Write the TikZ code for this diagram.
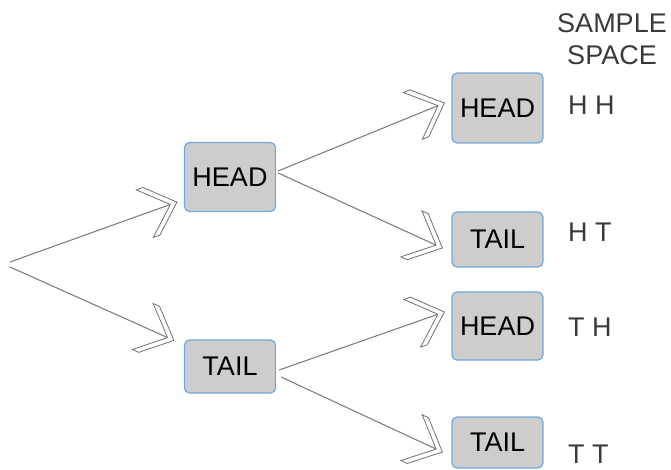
\documentclass[tikz,border=0pt]{standalone}
\usepackage{fontspec}
\setmainfont{Liberation Sans}
\usetikzlibrary{calc}
\definecolor{boxfill}{HTML}{CDCDCD}
\definecolor{boxdraw}{HTML}{6FA8DC}
\definecolor{conncol}{HTML}{808080}
\definecolor{chevcol}{HTML}{707070}
\definecolor{sstext}{HTML}{3A3A3A}
\tikzset{
  box/.style={draw=boxdraw, fill=boxfill, line width=1.2pt, rounded corners=5pt,
    minimum width=91pt, inner sep=0pt, font=\fontsize{27}{30}\selectfont, text=black},
  conn/.style={draw=conncol, line width=1.1pt},
  chev/.style={draw=chevcol, fill=white, line width=0.8pt, line join=miter},
  sslabel/.style={inner sep=0pt, font=\fontsize{27}{30}\selectfont, text=sstext},
}
\newcommand\chevarrow[2]{%
  \draw[conn] (#1) -- (#2);
  \path[chev] let \p1=(#1), \p2=(#2), \n1={atan2(\y2-\y1,\x2-\x1)} in
    (\p2) -- ++(\n1+137:37pt) -- ++(\n1+180:7pt) -- ++(\n1-43:37pt)
    -- ++(\n1+223:37pt) -- ++(\n1:7pt) -- cycle;
}
\begin{document}
\begin{tikzpicture}[x=1pt,y=-1pt]
\useasboundingbox (0,0) rectangle (671,470);
% nodes
\node[box, minimum height=69pt] (h1) at (230,177) {HEAD};
\node[box, minimum height=53pt] (t1) at (230,366.5) {TAIL};
\node[box, minimum height=70pt] (h2) at (497.5,108) {HEAD};
\node[box, minimum height=55pt] (t2) at (497.5,239.5) {TAIL};
\node[box, minimum height=68pt] (h3) at (497.5,326) {HEAD};
\node[box, minimum height=51pt] (t3) at (497.5,442.5) {TAIL};
\coordinate (r1) at (10,262);
\coordinate (r2) at (10,267);
% connectors
\chevarrow{r1}{$(h1.south west)+(-7,-10)$}
\chevarrow{r2}{$(t1.north west)+(-10,1)$}
\chevarrow{$(h1.east)+(2,-6)$}{$(h2.west)+(-7,-5)$}
\chevarrow{$(h1.east)+(2,-4)$}{$(t2.west)+(-9,8.5)$}
\chevarrow{$(t1.east)+(3,3.5)$}{$(h3.west)+(-7,-14)$}
\chevarrow{$(t1.east)+(5,10.5)$}{$(t3.west)+(-9,9.5)$}
% sample space
\node[sslabel, anchor=base] (ss1) at (612,33) {SAMPLE};
\node[sslabel, anchor=base] (ss2) at (612,65) {SPACE};
\node[sslabel, anchor=base west] (o1) at (568,115) {H H};
\node[sslabel, anchor=base west] (o2) at (568,241.5) {H T};
\node[sslabel, anchor=base west] (o3) at (568,336.5) {T H};
\node[sslabel, anchor=base west] (o4) at (568,463) {T T};
\end{tikzpicture}
\end{document}
